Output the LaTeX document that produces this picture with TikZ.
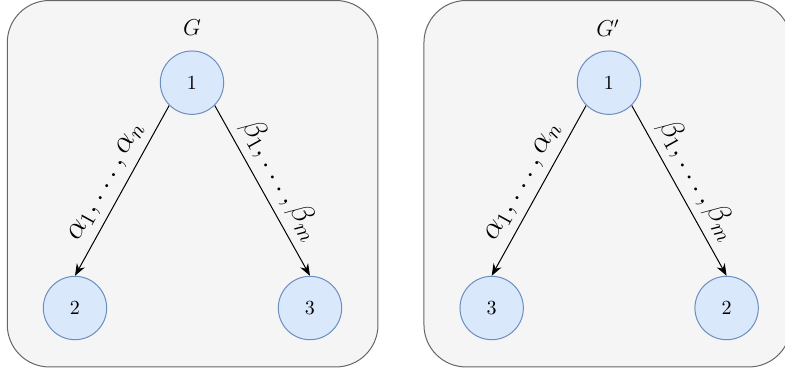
\documentclass[tikz,border=0pt]{standalone}
\usepackage{amsmath}
\usetikzlibrary{arrows.meta}
\pgfdeclarelayer{boxlayer}
\pgfdeclarelayer{nodelayer}
\pgfdeclarelayer{edgelayer}
\pgfsetlayers{boxlayer,edgelayer,nodelayer,main}
\definecolor{vertexfill}{HTML}{DAE8FC}
\definecolor{vertexdraw}{HTML}{6C8EBF}
\definecolor{boxfill}{HTML}{F5F5F5}
\definecolor{boxdraw}{HTML}{666666}
\tikzstyle{vertex}=[fill=vertexfill, draw=vertexdraw, shape=circle, minimum size=1.114cm, inner sep=0pt, line width=0.5pt]
\tikzstyle{none}=[fill=none, draw=none, shape=rectangle, font=\large, scale=0.96]
\tikzstyle{graph box}=[fill=boxfill, draw=boxdraw, line width=0.5pt, rounded corners=0.74cm]
\tikzstyle{arc edge}=[draw=black, line width=0.5pt, -{Stealth[length=6pt, width=4.5pt]}]
\tikzstyle{arc text}=[font=\Large, scale=1.076, sloped, above]

\begin{document}
\begin{tikzpicture}
	\useasboundingbox (0, 0) rectangle (13.796, -6.555);
	\begin{pgfonlayer}{boxlayer}
		\draw [style=graph box] (0.128, -0.009) rectangle (6.643, -6.449);
		\draw [style=graph box] (7.451, -0.009) rectangle (13.900, -6.449);
	\end{pgfonlayer}
	\begin{pgfonlayer}{nodelayer}
		% G
		\node [style=vertex] (0) at (3.374, -1.453) {$1$};
		\node [style=vertex] (1) at (1.318, -5.413) {$2$};
		\node [style=vertex] (2) at (5.448, -5.413) {$3$};
		\node [style=none] (3) at (3.374, -0.492) {$G$};
		% G'
		\node [style=vertex] (4) at (10.702, -1.453) {$1$};
		\node [style=vertex] (5) at (8.641, -5.413) {$3$};
		\node [style=vertex] (6) at (12.770, -5.413) {$2$};
		\node [style=none] (7) at (10.684, -0.492) {$G'$};
	\end{pgfonlayer}
	\begin{pgfonlayer}{edgelayer}
		\draw [style=arc edge] (0.south west) to node [style=arc text] {$\alpha_1,\ldots,\alpha_n$} (1.north);
		\draw [style=arc edge] (0.south east) to node [style=arc text] {$\beta_1,\ldots,\beta_m$} (2.north);
		\draw [style=arc edge] (4.south west) to node [style=arc text] {$\alpha_1,\ldots,\alpha_n$} (5.north);
		\draw [style=arc edge] (4.south east) to node [style=arc text] {$\beta_1,\ldots,\beta_m$} (6.north);
	\end{pgfonlayer}
\end{tikzpicture}
\end{document}
